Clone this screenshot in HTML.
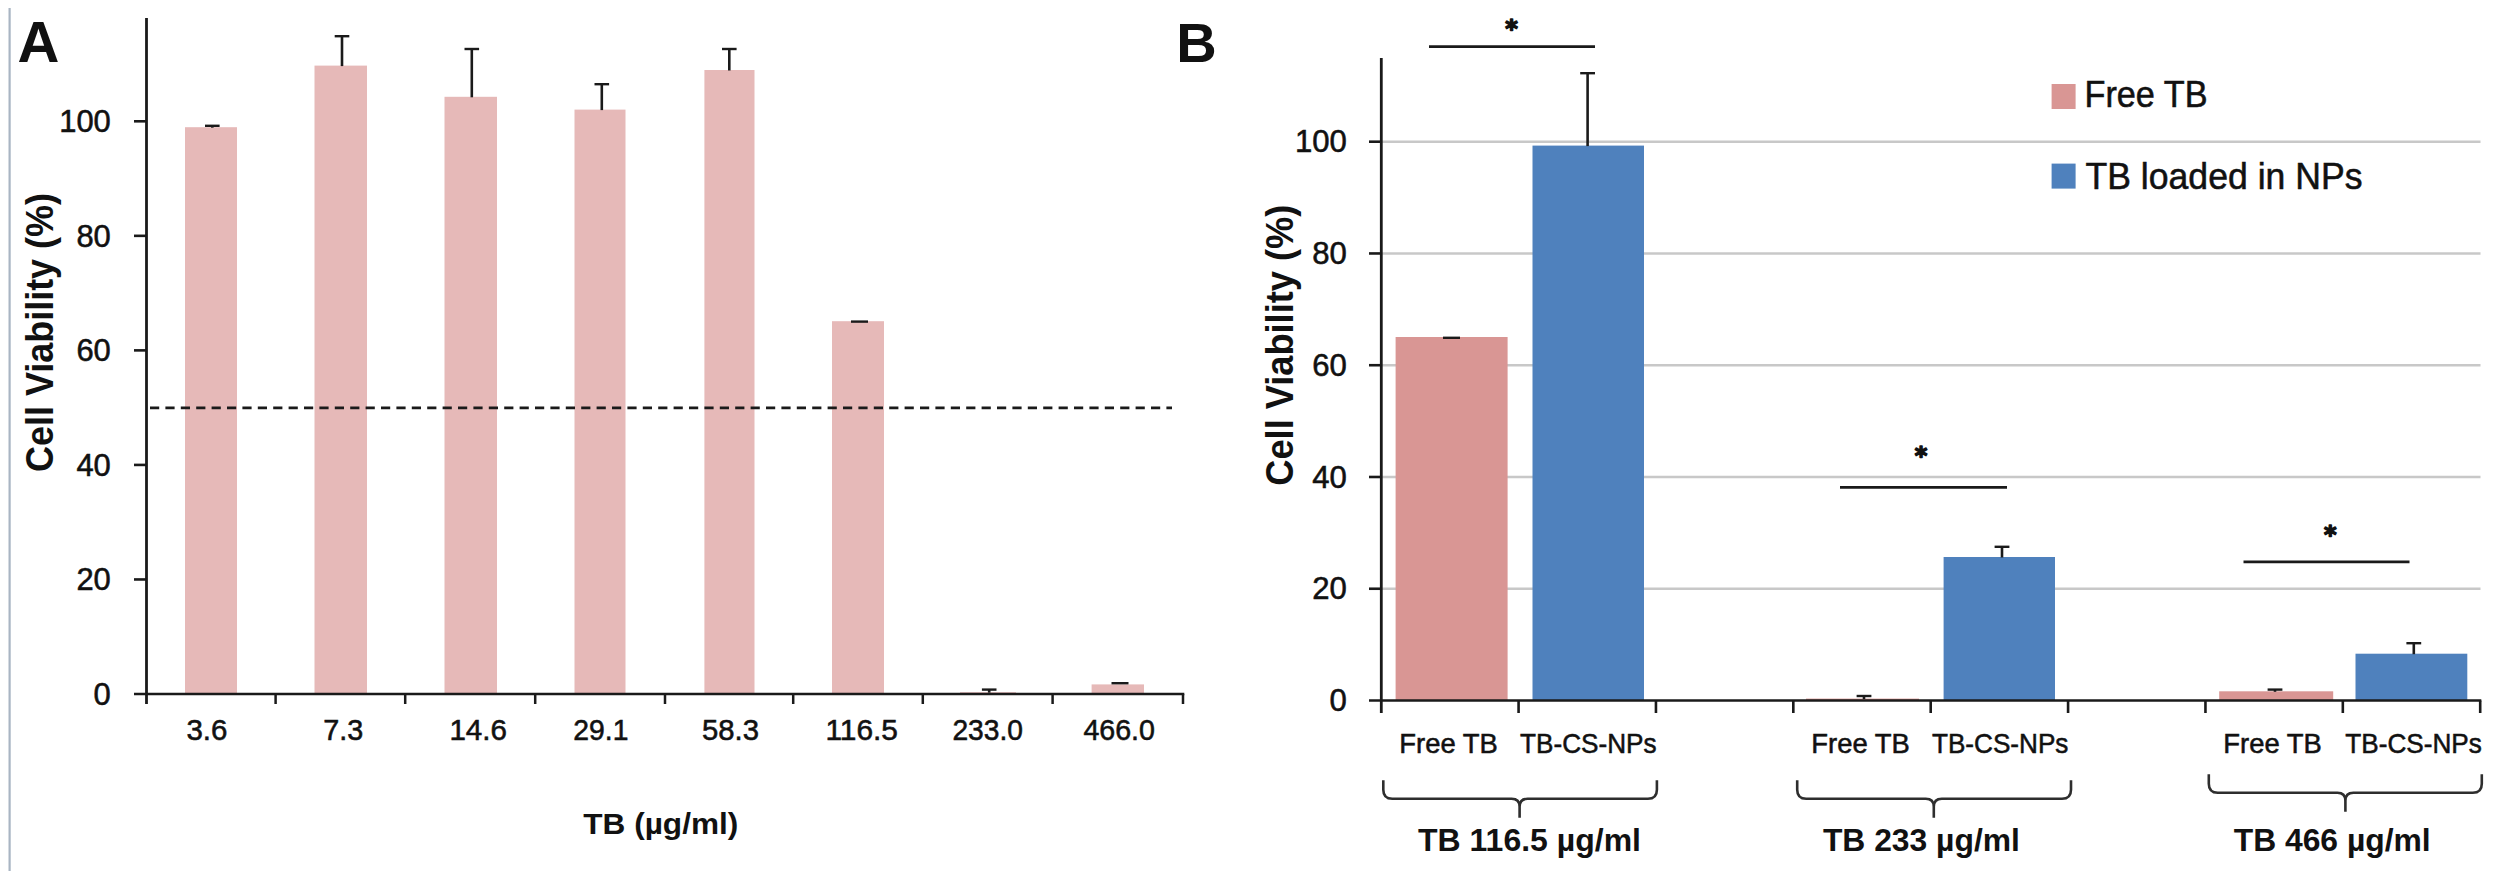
<!DOCTYPE html>
<html lang="en"><head><meta charset="utf-8"><title>Cell viability – TB and TB-CS-NPs</title>
<style>
html,body{margin:0;padding:0;background:#fff;}
body{width:2500px;height:880px;overflow:hidden;}
svg{display:block;font-family:"Liberation Sans","DejaVu Sans",sans-serif;fill:#111;}
</style></head><body>
<svg width="2500" height="880" viewBox="0 0 2500 880">
<rect x="0" y="0" width="2500" height="880" fill="#ffffff"/>
<rect x="8.5" y="8" width="2.2" height="863" fill="#a9b5c3"/>
<rect x="185" y="127.2" width="52" height="566.8" fill="#e6b9b8"/>
<rect x="314.5" y="65.6" width="52.5" height="628.4" fill="#e6b9b8"/>
<rect x="444.5" y="96.8" width="52.5" height="597.2" fill="#e6b9b8"/>
<rect x="574.5" y="109.6" width="51.0" height="584.4" fill="#e6b9b8"/>
<rect x="704.4" y="70" width="50.10000000000002" height="624.0" fill="#e6b9b8"/>
<rect x="832" y="321.2" width="52" height="372.8" fill="#e6b9b8"/>
<rect x="960" y="692.2" width="56" height="1.7999999999999545" fill="#e6b9b8"/>
<rect x="1091.6" y="684.4" width="52.40000000000009" height="9.600000000000023" fill="#e6b9b8"/>
<line x1="150" y1="407.8" x2="1172" y2="407.8" stroke="#1a1a1a" stroke-width="2.7" stroke-dasharray="9.2 6.2"/>
<line x1="212.3" y1="125.8" x2="212.3" y2="127.7" stroke="#1a1a1a" stroke-width="2.6" />
<line x1="205.0" y1="125.8" x2="219.60000000000002" y2="125.8" stroke="#1a1a1a" stroke-width="2.4" />
<line x1="342" y1="36.2" x2="342" y2="66.1" stroke="#1a1a1a" stroke-width="2.6" />
<line x1="334.7" y1="36.2" x2="349.3" y2="36.2" stroke="#1a1a1a" stroke-width="2.4" />
<line x1="471.8" y1="49" x2="471.8" y2="97.3" stroke="#1a1a1a" stroke-width="2.6" />
<line x1="464.5" y1="49" x2="479.1" y2="49" stroke="#1a1a1a" stroke-width="2.4" />
<line x1="601.8" y1="84.2" x2="601.8" y2="110.1" stroke="#1a1a1a" stroke-width="2.6" />
<line x1="594.5" y1="84.2" x2="609.0999999999999" y2="84.2" stroke="#1a1a1a" stroke-width="2.4" />
<line x1="729.3" y1="49" x2="729.3" y2="70.5" stroke="#1a1a1a" stroke-width="2.6" />
<line x1="722.0" y1="49" x2="736.5999999999999" y2="49" stroke="#1a1a1a" stroke-width="2.4" />
<line x1="851.0" y1="321.6" x2="868.0" y2="321.6" stroke="#1a1a1a" stroke-width="2.4" />
<line x1="989.2" y1="689.6" x2="989.2" y2="692.7" stroke="#1a1a1a" stroke-width="2.6" />
<line x1="981.9000000000001" y1="689.6" x2="996.5" y2="689.6" stroke="#1a1a1a" stroke-width="2.4" />
<line x1="1111.5" y1="683.2" x2="1128.5" y2="683.2" stroke="#1a1a1a" stroke-width="2.4" />
<line x1="146.5" y1="18" x2="146.5" y2="704" stroke="#1a1a1a" stroke-width="2.8" />
<line x1="134" y1="694.0" x2="1184.3" y2="694.0" stroke="#1a1a1a" stroke-width="2.7" />
<line x1="134" y1="579.46" x2="146.5" y2="579.46" stroke="#1a1a1a" stroke-width="2.6" />
<line x1="134" y1="464.91999999999996" x2="146.5" y2="464.91999999999996" stroke="#1a1a1a" stroke-width="2.6" />
<line x1="134" y1="350.38" x2="146.5" y2="350.38" stroke="#1a1a1a" stroke-width="2.6" />
<line x1="134" y1="235.83999999999997" x2="146.5" y2="235.83999999999997" stroke="#1a1a1a" stroke-width="2.6" />
<line x1="134" y1="121.29999999999995" x2="146.5" y2="121.29999999999995" stroke="#1a1a1a" stroke-width="2.6" />
<line x1="275.6" y1="694.0" x2="275.6" y2="704" stroke="#1a1a1a" stroke-width="2.5" />
<line x1="405.2" y1="694.0" x2="405.2" y2="704" stroke="#1a1a1a" stroke-width="2.5" />
<line x1="535.2" y1="694.0" x2="535.2" y2="704" stroke="#1a1a1a" stroke-width="2.5" />
<line x1="665" y1="694.0" x2="665" y2="704" stroke="#1a1a1a" stroke-width="2.5" />
<line x1="793.2" y1="694.0" x2="793.2" y2="704" stroke="#1a1a1a" stroke-width="2.5" />
<line x1="922.8" y1="694.0" x2="922.8" y2="704" stroke="#1a1a1a" stroke-width="2.5" />
<line x1="1052.6" y1="694.0" x2="1052.6" y2="704" stroke="#1a1a1a" stroke-width="2.5" />
<line x1="1183" y1="694.0" x2="1183" y2="704" stroke="#1a1a1a" stroke-width="2.5" />
<text x="110.8" y="704.7" font-size="31.3" text-anchor="end" stroke="#111" stroke-width="0.55" textLength="17.2" lengthAdjust="spacingAndGlyphs" >0</text>
<text x="110.8" y="590.1600000000001" font-size="31.3" text-anchor="end" stroke="#111" stroke-width="0.55" textLength="34.4" lengthAdjust="spacingAndGlyphs" >20</text>
<text x="110.8" y="475.61999999999995" font-size="31.3" text-anchor="end" stroke="#111" stroke-width="0.55" textLength="34.4" lengthAdjust="spacingAndGlyphs" >40</text>
<text x="110.8" y="361.08" font-size="31.3" text-anchor="end" stroke="#111" stroke-width="0.55" textLength="34.4" lengthAdjust="spacingAndGlyphs" >60</text>
<text x="110.8" y="246.53999999999996" font-size="31.3" text-anchor="end" stroke="#111" stroke-width="0.55" textLength="34.4" lengthAdjust="spacingAndGlyphs" >80</text>
<text x="110.8" y="131.99999999999994" font-size="31.3" text-anchor="end" stroke="#111" stroke-width="0.55" textLength="51.6" lengthAdjust="spacingAndGlyphs" >100</text>
<text x="206.89999999999998" y="739.6" font-size="28.6" text-anchor="middle" stroke="#111" stroke-width="0.55" textLength="41.0" lengthAdjust="spacingAndGlyphs" >3.6</text>
<text x="343.2" y="739.6" font-size="28.6" text-anchor="middle" stroke="#111" stroke-width="0.55" textLength="40.0" lengthAdjust="spacingAndGlyphs" >7.3</text>
<text x="478.2" y="739.6" font-size="28.6" text-anchor="middle" stroke="#111" stroke-width="0.55" textLength="57.6" lengthAdjust="spacingAndGlyphs" >14.6</text>
<text x="600.9000000000001" y="739.6" font-size="28.6" text-anchor="middle" stroke="#111" stroke-width="0.55" textLength="55.1" lengthAdjust="spacingAndGlyphs" >29.1</text>
<text x="730.5" y="739.6" font-size="28.6" text-anchor="middle" stroke="#111" stroke-width="0.55" textLength="57.0" lengthAdjust="spacingAndGlyphs" >58.3</text>
<text x="861.7" y="739.6" font-size="28.6" text-anchor="middle" stroke="#111" stroke-width="0.55" textLength="72.6" lengthAdjust="spacingAndGlyphs" >116.5</text>
<text x="987.7" y="739.6" font-size="28.6" text-anchor="middle" stroke="#111" stroke-width="0.55" textLength="70.6" lengthAdjust="spacingAndGlyphs" >233.0</text>
<text x="1119.2" y="739.6" font-size="28.6" text-anchor="middle" stroke="#111" stroke-width="0.55" textLength="71.6" lengthAdjust="spacingAndGlyphs" >466.0</text>
<text x="660.8" y="834" font-size="30" text-anchor="middle" font-weight="700" textLength="155" lengthAdjust="spacingAndGlyphs" >TB (µg/ml)</text>
<text transform="translate(52.7,332.5) rotate(-90)" font-size="38.5" font-weight="700" text-anchor="middle" textLength="279" lengthAdjust="spacingAndGlyphs">Cell Viability (%)</text>
<text x="17.5" y="61.5" font-size="58" text-anchor="start" font-weight="700" >A</text>
<line x1="1381.3" y1="588.74" x2="2480.5" y2="588.74" stroke="#c8c8c8" stroke-width="2.4" />
<line x1="1381.3" y1="476.98" x2="2480.5" y2="476.98" stroke="#c8c8c8" stroke-width="2.4" />
<line x1="1381.3" y1="365.22" x2="2480.5" y2="365.22" stroke="#c8c8c8" stroke-width="2.4" />
<line x1="1381.3" y1="253.45999999999998" x2="2480.5" y2="253.45999999999998" stroke="#c8c8c8" stroke-width="2.4" />
<line x1="1381.3" y1="141.70000000000005" x2="2480.5" y2="141.70000000000005" stroke="#c8c8c8" stroke-width="2.4" />
<rect x="1395.6" y="337" width="112.0" height="363.5" fill="#d99694"/>
<rect x="1532.5" y="145.6" width="111.5" height="554.9" fill="#4f81bd"/>
<rect x="1806" y="698.6" width="113" height="1.8999999999999773" fill="#d99694"/>
<rect x="1943.6" y="557" width="111.40000000000009" height="143.5" fill="#4f81bd"/>
<rect x="2219.2" y="691.3" width="114.0" height="9.200000000000045" fill="#d99694"/>
<rect x="2355.5" y="653.7" width="111.80000000000018" height="46.799999999999955" fill="#4f81bd"/>
<line x1="1443.0" y1="337.8" x2="1460.0" y2="337.8" stroke="#1a1a1a" stroke-width="2.4" />
<line x1="1587.6" y1="73.2" x2="1587.6" y2="146.1" stroke="#1a1a1a" stroke-width="2.6" />
<line x1="1580.1999999999998" y1="73.2" x2="1595.0" y2="73.2" stroke="#1a1a1a" stroke-width="2.4" />
<line x1="1864" y1="696" x2="1864" y2="699.1" stroke="#1a1a1a" stroke-width="2.6" />
<line x1="1856.6" y1="696" x2="1871.4" y2="696" stroke="#1a1a1a" stroke-width="2.4" />
<line x1="2002" y1="546.8" x2="2002" y2="557.5" stroke="#1a1a1a" stroke-width="2.6" />
<line x1="1994.6" y1="546.8" x2="2009.4" y2="546.8" stroke="#1a1a1a" stroke-width="2.4" />
<line x1="2275" y1="689.6" x2="2275" y2="691.8" stroke="#1a1a1a" stroke-width="2.6" />
<line x1="2267.6" y1="689.6" x2="2282.4" y2="689.6" stroke="#1a1a1a" stroke-width="2.4" />
<line x1="2413.8" y1="643.2" x2="2413.8" y2="654.2" stroke="#1a1a1a" stroke-width="2.6" />
<line x1="2406.4" y1="643.2" x2="2421.2000000000003" y2="643.2" stroke="#1a1a1a" stroke-width="2.4" />
<line x1="1381.3" y1="58" x2="1381.3" y2="713" stroke="#1a1a1a" stroke-width="2.8" />
<line x1="1369" y1="700.5" x2="2481.3" y2="700.5" stroke="#1a1a1a" stroke-width="2.7" />
<line x1="1369" y1="588.74" x2="1381.3" y2="588.74" stroke="#1a1a1a" stroke-width="2.6" />
<line x1="1369" y1="476.98" x2="1381.3" y2="476.98" stroke="#1a1a1a" stroke-width="2.6" />
<line x1="1369" y1="365.22" x2="1381.3" y2="365.22" stroke="#1a1a1a" stroke-width="2.6" />
<line x1="1369" y1="253.45999999999998" x2="1381.3" y2="253.45999999999998" stroke="#1a1a1a" stroke-width="2.6" />
<line x1="1369" y1="141.70000000000005" x2="1381.3" y2="141.70000000000005" stroke="#1a1a1a" stroke-width="2.6" />
<line x1="1518.575" y1="700.5" x2="1518.575" y2="713" stroke="#1a1a1a" stroke-width="2.6" />
<line x1="1655.95" y1="700.5" x2="1655.95" y2="713" stroke="#1a1a1a" stroke-width="2.6" />
<line x1="1793.325" y1="700.5" x2="1793.325" y2="713" stroke="#1a1a1a" stroke-width="2.6" />
<line x1="1930.7" y1="700.5" x2="1930.7" y2="713" stroke="#1a1a1a" stroke-width="2.6" />
<line x1="2068.075" y1="700.5" x2="2068.075" y2="713" stroke="#1a1a1a" stroke-width="2.6" />
<line x1="2205.45" y1="700.5" x2="2205.45" y2="713" stroke="#1a1a1a" stroke-width="2.6" />
<line x1="2342.825" y1="700.5" x2="2342.825" y2="713" stroke="#1a1a1a" stroke-width="2.6" />
<line x1="2480.2" y1="700.5" x2="2480.2" y2="713" stroke="#1a1a1a" stroke-width="2.6" />
<text x="1346.8" y="711.2" font-size="31.3" text-anchor="end" stroke="#111" stroke-width="0.55" textLength="17.3" lengthAdjust="spacingAndGlyphs" >0</text>
<text x="1346.8" y="599.44" font-size="31.3" text-anchor="end" stroke="#111" stroke-width="0.55" textLength="34.6" lengthAdjust="spacingAndGlyphs" >20</text>
<text x="1346.8" y="487.68" font-size="31.3" text-anchor="end" stroke="#111" stroke-width="0.55" textLength="34.6" lengthAdjust="spacingAndGlyphs" >40</text>
<text x="1346.8" y="375.92" font-size="31.3" text-anchor="end" stroke="#111" stroke-width="0.55" textLength="34.6" lengthAdjust="spacingAndGlyphs" >60</text>
<text x="1346.8" y="264.15999999999997" font-size="31.3" text-anchor="end" stroke="#111" stroke-width="0.55" textLength="34.6" lengthAdjust="spacingAndGlyphs" >80</text>
<text x="1346.8" y="152.40000000000003" font-size="31.3" text-anchor="end" stroke="#111" stroke-width="0.55" textLength="51.9" lengthAdjust="spacingAndGlyphs" >100</text>
<text transform="translate(1292.7,345.2) rotate(-90)" font-size="38.5" font-weight="700" text-anchor="middle" textLength="281" lengthAdjust="spacingAndGlyphs">Cell Viability (%)</text>
<text x="1176.3" y="61.5" font-size="56" text-anchor="start" font-weight="700" >B</text>
<text x="1448.6" y="752.9" font-size="28.3" text-anchor="middle" stroke="#111" stroke-width="0.55" textLength="98.5" lengthAdjust="spacingAndGlyphs" >Free TB</text>
<text x="1588.3" y="752.9" font-size="28.3" text-anchor="middle" stroke="#111" stroke-width="0.55" textLength="136.5" lengthAdjust="spacingAndGlyphs" >TB-CS-NPs</text>
<text x="1860.6" y="752.9" font-size="28.3" text-anchor="middle" stroke="#111" stroke-width="0.55" textLength="98.5" lengthAdjust="spacingAndGlyphs" >Free TB</text>
<text x="2000.1999999999998" y="752.9" font-size="28.3" text-anchor="middle" stroke="#111" stroke-width="0.55" textLength="136.5" lengthAdjust="spacingAndGlyphs" >TB-CS-NPs</text>
<text x="2272.6" y="752.9" font-size="28.3" text-anchor="middle" stroke="#111" stroke-width="0.55" textLength="98.5" lengthAdjust="spacingAndGlyphs" >Free TB</text>
<text x="2413.6" y="752.9" font-size="28.3" text-anchor="middle" stroke="#111" stroke-width="0.55" textLength="136.5" lengthAdjust="spacingAndGlyphs" >TB-CS-NPs</text>
<path d="M1383.3,780.2 V789.8000000000001 Q1383.3,798.8000000000001 1392.3,798.8000000000001 H1511.6 Q1519.6,798.8000000000001 1519.6,806.8000000000001 V817.7 M1656.9,780.2 V789.8000000000001 Q1656.9,798.8000000000001 1647.9,798.8000000000001 H1527.6 Q1519.6,798.8000000000001 1519.6,806.8000000000001 V817.7" fill="none" stroke="#2e2e2e" stroke-width="2.6" stroke-linecap="butt"/>
<path d="M1797.2,780.2 V789.8000000000001 Q1797.2,798.8000000000001 1806.2,798.8000000000001 H1925.8 Q1933.8,798.8000000000001 1933.8,806.8000000000001 V817.7 M2071.0,780.2 V789.8000000000001 Q2071.0,798.8000000000001 2062.0,798.8000000000001 H1941.8 Q1933.8,798.8000000000001 1933.8,806.8000000000001 V817.7" fill="none" stroke="#2e2e2e" stroke-width="2.6" stroke-linecap="butt"/>
<path d="M2208.8,774.2 V783.8000000000001 Q2208.8,792.8000000000001 2217.8,792.8000000000001 H2337.4 Q2345.4,792.8000000000001 2345.4,800.8000000000001 V811.7 M2481.8,774.2 V783.8000000000001 Q2481.8,792.8000000000001 2472.8,792.8000000000001 H2353.4 Q2345.4,792.8000000000001 2345.4,800.8000000000001 V811.7" fill="none" stroke="#2e2e2e" stroke-width="2.6" stroke-linecap="butt"/>
<text x="1529.5" y="851.3" font-size="30.5" text-anchor="middle" font-weight="700" textLength="223" lengthAdjust="spacingAndGlyphs" >TB 116.5 µg/ml</text>
<text x="1921.4" y="851.3" font-size="30.5" text-anchor="middle" font-weight="700" textLength="197" lengthAdjust="spacingAndGlyphs" >TB 233 µg/ml</text>
<text x="2332.2" y="851.3" font-size="30.5" text-anchor="middle" font-weight="700" textLength="197" lengthAdjust="spacingAndGlyphs" >TB 466 µg/ml</text>
<line x1="1429" y1="46.7" x2="1595" y2="46.7" stroke="#1a1a1a" stroke-width="2.7" />
<line x1="1840" y1="487.3" x2="2007" y2="487.3" stroke="#1a1a1a" stroke-width="2.7" />
<line x1="2243.5" y1="561.9" x2="2409.5" y2="561.9" stroke="#1a1a1a" stroke-width="2.7" />
<text x="1511.5" y="36.6" font-size="24" text-anchor="middle" font-weight="700" font-family="DejaVu Sans" stroke="#111" stroke-width="1.5" stroke-linejoin="round">*</text>
<text x="1921" y="463.8" font-size="24" text-anchor="middle" font-weight="700" font-family="DejaVu Sans" stroke="#111" stroke-width="1.5" stroke-linejoin="round">*</text>
<text x="2330.4" y="543.2" font-size="24" text-anchor="middle" font-weight="700" font-family="DejaVu Sans" stroke="#111" stroke-width="1.5" stroke-linejoin="round">*</text>
<rect x="2051.6" y="84" width="24" height="25" fill="#d99694"/>
<rect x="2051.6" y="163.6" width="24" height="25" fill="#4f81bd"/>
<text x="2084.5" y="107" font-size="36" text-anchor="start" stroke="#111" stroke-width="0.55" textLength="123" lengthAdjust="spacingAndGlyphs" >Free TB</text>
<text x="2085.5" y="189" font-size="36" text-anchor="start" stroke="#111" stroke-width="0.55" textLength="277" lengthAdjust="spacingAndGlyphs" >TB loaded in NPs</text>
</svg>
</body></html>
